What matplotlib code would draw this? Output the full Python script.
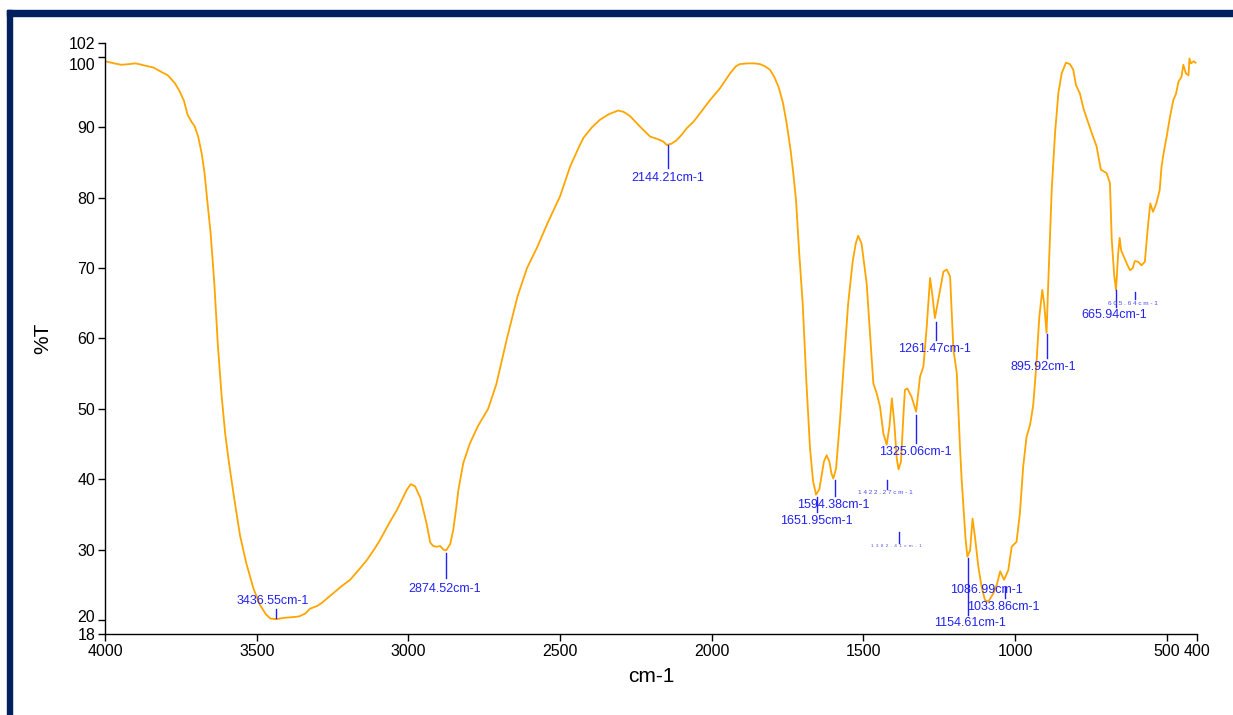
import matplotlib
matplotlib.use('Agg')
import matplotlib.pyplot as plt
from matplotlib.patches import Rectangle
from matplotlib.transforms import ScaledTranslation

plt.rcParams['font.family'] = ['Liberation Sans', 'DejaVu Sans']

# IR spectrum, wavenumber (cm-1) vs transmittance (%T)
wavenumber = [4000, 3970, 3946, 3920, 3899, 3870, 3840, 3815, 3793, 3770, 3755, 3740,
              3728, 3715, 3705, 3693, 3681, 3672, 3663, 3652, 3640, 3628, 3616, 3604,
              3592, 3575, 3555, 3534, 3511, 3490, 3470, 3455, 3436, 3410, 3380, 3360,
              3340, 3324, 3300, 3286, 3250, 3220, 3192, 3160, 3137, 3110, 3093, 3060,
              3038, 3020, 3005, 2992, 2978, 2960, 2940, 2928, 2918, 2906, 2895, 2885,
              2875, 2862, 2852, 2842, 2835, 2819, 2797, 2770, 2737, 2710, 2675, 2640,
              2609, 2575, 2540, 2500, 2467, 2440, 2423, 2395, 2368, 2338, 2308, 2290,
              2269, 2236, 2203, 2176, 2160, 2148, 2132, 2115, 2098, 2082, 2060, 2030,
              2005, 1972, 1939, 1920, 1907, 1880, 1860, 1841, 1825, 1808, 1794, 1780,
              1765, 1753, 1740, 1731, 1722, 1712, 1700, 1688, 1676, 1666, 1656, 1645,
              1638, 1630, 1621, 1612, 1605, 1599, 1590, 1577, 1565, 1550, 1535, 1525,
              1517, 1506, 1497, 1489, 1478, 1467, 1456, 1445, 1434, 1423, 1414, 1406,
              1398, 1390, 1384, 1376, 1368, 1363, 1355, 1341, 1326, 1313, 1302, 1291,
              1280, 1272, 1264, 1247, 1236, 1225, 1214, 1203, 1192, 1181, 1176, 1170,
              1163, 1157, 1148, 1140, 1132, 1121, 1110, 1099, 1088, 1071, 1060, 1049,
              1036, 1022, 1011, 995, 984, 973, 962, 950, 940, 930, 920, 910,
              904, 896, 890, 879, 868, 857, 846, 832, 819, 808, 799, 786,
              773, 758, 747, 731, 717, 698, 687, 681, 673, 667, 660, 655,
              650, 640, 630, 621, 612, 605, 594, 583, 572, 561, 554, 545,
              534, 523, 517, 511, 500, 489, 478, 469, 461, 451, 445, 437,
              428, 425, 420, 411, 405]
transmittance = [99.4, 99.1, 98.9, 99.0, 99.1, 98.8, 98.5, 97.9, 97.4, 96.3, 95.2, 93.8,
                 91.8, 90.8, 90.2, 88.7, 86.2, 83.5, 79.6, 75.0, 68.0, 59.0, 52.0, 46.5,
                 42.5, 37.5, 32.0, 28.0, 24.5, 22.2, 20.8, 20.2, 20.1, 20.3, 20.4, 20.5,
                 20.9, 21.6, 22.0, 22.4, 23.7, 24.8, 25.7, 27.3, 28.5, 30.2, 31.4, 34.0,
                 35.6, 37.2, 38.5, 39.3, 39.0, 37.3, 33.7, 31.0, 30.5, 30.4, 30.5, 30.0,
                 29.9, 30.8, 32.8, 36.0, 38.5, 42.3, 45.1, 47.6, 50.0, 53.5, 60.0, 66.0,
                 70.0, 73.0, 76.5, 80.2, 84.4, 87.0, 88.5, 90.0, 91.1, 91.9, 92.4, 92.2,
                 91.6, 90.1, 88.7, 88.3, 88.0, 87.5, 87.7, 88.2, 89.0, 89.9, 90.8, 92.5,
                 93.9, 95.6, 97.7, 98.7, 99.0, 99.1, 99.1, 99.0, 98.7, 98.2, 97.2, 95.8,
                 93.5, 90.6, 86.8, 83.5, 79.7, 72.5, 65.0, 54.0, 44.5, 39.8, 37.8, 38.6,
                 40.4, 42.5, 43.4, 42.5, 40.8, 40.1, 41.5, 48.4, 56.0, 65.0, 71.0, 73.5,
                 74.6, 73.5, 70.5, 67.8, 60.7, 53.6, 52.2, 50.3, 46.5, 44.9, 47.5, 51.5,
                 48.0, 43.0, 41.4, 42.5, 49.0, 52.7, 52.9, 51.7, 49.6, 54.6, 56.0, 61.7,
                 68.6, 66.0, 62.9, 66.9, 69.5, 69.8, 68.8, 58.4, 55.1, 44.2, 40.0, 36.1,
                 31.5, 29.0, 29.9, 34.4, 31.8, 27.6, 24.7, 22.8, 22.6, 23.8, 25.0, 26.9,
                 25.7, 27.1, 30.4, 31.1, 35.1, 41.8, 46.0, 47.8, 50.5, 56.0, 63.0, 66.9,
                 65.0, 60.8, 68.3, 81.1, 89.2, 94.9, 97.7, 99.2, 99.0, 98.2, 96.0, 94.8,
                 92.5, 90.6, 89.2, 87.3, 84.0, 83.5, 82.1, 74.0, 69.0, 66.9, 72.0, 74.3,
                 72.5, 71.5, 70.5, 69.7, 70.0, 71.0, 70.9, 70.4, 70.9, 76.3, 79.2, 78.0,
                 79.2, 81.1, 84.4, 86.1, 88.7, 91.5, 93.9, 94.8, 96.5, 97.2, 98.9, 97.7,
                 97.4, 99.8, 99.1, 99.4, 99.2]

# peak picks: wavenumber, tick top/bottom (%T), label position
peak_wn = [3436.55, 2874.52, 2144.21, 1651.95, 1594.38, 1422.27, 1382.41, 1325.06,
           1261.47, 1154.61, 1086.99, 1033.86, 895.92, 665.94, 605.64]
# 0 = normal label, otherwise font size of the squeezed tiny labels
peak_tiny = [0, 0, 0, 0, 0, 4.6, 3.2, 0, 0, 0, 0, 0, 0, 0, 4.6]

tick_top = [21.5, 29.5, 87.5, 37.4, 39.9, 39.9, 32.5, 49.1, 62.4, 28.8, None, 24.7, 60.7, 66.9, 66.6]
tick_bot = [20.3, 26.0, 84.2, 35.4, 37.6, 38.6, 30.9, 45.1, 59.8, 20.7, None, 23.1, 57.2, 64.5, 65.6]
label_x = [3448, 2882, 2146, 1655, 1600, 1428, 1390, 1330, 1265, 1148, 1095, 1040, 906, 674, 610]
label_y = [22.7, 24.4, 82.8, 34.1, 36.4, 38.1, 30.5, 43.8, 58.5, 19.6, 24.3, 21.9, 56.0, 63.3, 65.0]

xticks = [4000, 3500, 3000, 2500, 2000, 1500, 1000, 500, 400]
yticks = [18, 20, 30, 40, 50, 60, 70, 80, 90, 100, 102]

fig = plt.figure(figsize=(12.33, 7.15), dpi=100)
ax = fig.add_axes([0.0852, 0.1133, 0.8856, 0.8266])

ax.plot(wavenumber, transmittance, color='#ffa500', lw=1.3)

blue = '#2222ee'
for i, wn in enumerate(peak_wn):
    if tick_top[i] is not None:
        ax.plot([wn, wn], [tick_bot[i], tick_top[i]], color=blue, lw=1.0)
    if peak_tiny[i]:
        gap = '  ' if peak_tiny[i] < 4 else ' '
        txt = gap.join(f'{wn:.2f}cm-1')
        ax.text(label_x[i], label_y[i], txt, color='#4a4af0', fontsize=peak_tiny[i],
                ha='center', va='center')
    else:
        ax.text(label_x[i], label_y[i], f'{wn:.2f}cm-1', color=blue, fontsize=9,
                ha='center', va='center')

ax.set_xlim(4000, 400)
ax.set_ylim(18, 102)
ax.set_xticks(xticks)
ax.set_yticks(yticks)
ax.tick_params(direction='out', length=5, width=1, labelsize=11.5, colors='black', pad=2)

# nudge the crowded y labels apart
for lbl in ax.get_yticklabels():
    if lbl.get_text() == '100':
        lbl.set_transform(lbl.get_transform() + ScaledTranslation(0, -5 / 72, fig.dpi_scale_trans))
    elif lbl.get_text() == '20':
        lbl.set_transform(lbl.get_transform() + ScaledTranslation(0, 3 / 72, fig.dpi_scale_trans))

for side in ['top', 'right']:
    ax.spines[side].set_visible(False)
for side in ['left', 'bottom']:
    ax.spines[side].set_linewidth(1.0)

ax.set_xlabel('cm-1', fontsize=15, labelpad=6)
ax.set_ylabel('%T', fontsize=15, labelpad=12)

# window frame
navy = '#00205e'
fig.patches.append(Rectangle((7 / 1233, 1 - 16 / 715), 1, 6 / 715,
                             transform=fig.transFigure, color=navy, zorder=0))
fig.patches.append(Rectangle((7 / 1233, 0), 5 / 1233, 1 - 10 / 715,
                             transform=fig.transFigure, color=navy, zorder=0))

fig.savefig('out.png', dpi=100)
